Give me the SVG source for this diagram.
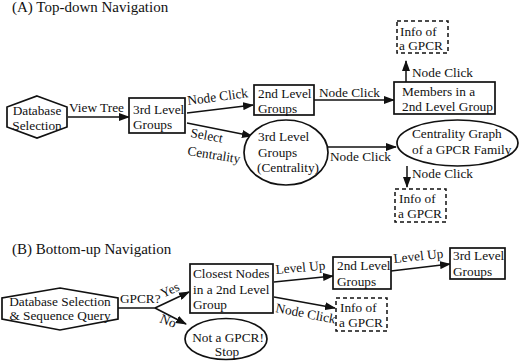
<svg xmlns="http://www.w3.org/2000/svg" width="520" height="361" viewBox="0 0 520 361" font-family="'Liberation Serif', serif">
<defs>
<marker id="ah" markerWidth="11" markerHeight="8" refX="10" refY="4" orient="auto" markerUnits="userSpaceOnUse">
<path d="M0,0 L11,4 L0,8 z" fill="#111"/>
</marker>
<style>
text{font-family:'Liberation Serif',serif;font-size:13.3px;fill:#111}
.title{font-size:15px}
.mid{text-anchor:middle}
.shape{fill:#fff;stroke:#111;stroke-width:1.7}
.dash{fill:#fff;stroke:#111;stroke-width:1.5;stroke-dasharray:4 3}
.conn{fill:none;stroke:#111;stroke-width:1.5}
.arr{marker-end:url(#ah)}
</style>
</defs>
<rect width="520" height="361" fill="#fff"/>
<text class="title" x="12" y="12">(A) Top-down Navigation</text>
<text class="title" x="12" y="254">(B) Bottom-up Navigation</text>

<g id="connectors">
<line class="conn arr" x1="68" y1="117" x2="129" y2="117"/>
<line class="conn arr" x1="187" y1="113" x2="253" y2="105"/>
<line class="conn arr" x1="187" y1="123" x2="252" y2="136"/>
<line class="conn arr" x1="314" y1="100" x2="394" y2="100"/>
<line class="conn arr" x1="406" y1="82" x2="406" y2="61"/>
<line class="conn arr" x1="328" y1="147" x2="396" y2="147"/>
<line class="conn arr" x1="407" y1="166" x2="407" y2="187"/>
<line class="conn" x1="118" y1="308" x2="155" y2="308"/>
<line class="conn arr" x1="155" y1="308" x2="189" y2="292"/>
<line class="conn arr" x1="155" y1="308" x2="186" y2="324"/>
<line class="conn arr" x1="274" y1="282" x2="333" y2="276"/>
<line class="conn arr" x1="391" y1="271" x2="450" y2="264"/>
<line class="conn arr" x1="274" y1="297" x2="335" y2="308"/>
<text x="69" y="112">View Tree</text>
<text x="188" y="105" transform="rotate(-7.5 188 105)">Node Click</text>
<text x="190" y="137" transform="rotate(10 190 137)">Select</text>
<text x="187" y="155" transform="rotate(9 187 155)">Centrality</text>
<text x="319" y="97">Node Click</text>
<text x="412" y="77">Node Click</text>
<text x="330" y="161">Node Click</text>
<text x="412" y="178">Node Click</text>
<text x="120" y="303">GPCR?</text>
<text x="163" y="298" transform="rotate(-25 163 298)">Yes</text>
<text x="159" y="322" transform="rotate(22 159 322)">No</text>
<text x="276" y="274" transform="rotate(-5 276 274)">Level Up</text>
<text x="394" y="263" transform="rotate(-6 394 263)">Level Up</text>
<text x="275" y="312" transform="rotate(11 275 312)">Node Click</text>
</g>

<g id="db-selection">
<polygon class="shape" points="37,96 67,107 67,127 37,138 7,127 7,107"/>
<text class="mid" x="37" y="115">Database</text>
<text class="mid" x="37" y="130">Selection</text>
</g>
<g id="a-3rd-level">
<rect class="shape" x="129" y="98" width="56" height="35"/>
<text x="133" y="114">3rd Level</text>
<text x="133" y="129">Groups</text>
</g>
<g id="a-2nd-level">
<rect class="shape" x="254" y="85" width="60" height="30"/>
<text x="258" y="98">2nd Level</text>
<text x="258" y="113">Groups</text>
</g>
<g id="a-members">
<rect class="shape" x="394" y="82" width="101" height="32"/>
<text x="402" y="96">Members in a</text>
<text x="402" y="111">2nd Level Group</text>
</g>
<g id="a-info-top">
<rect class="dash" x="397" y="21" width="51" height="32"/>
<text x="400" y="36">Info of</text>
<text x="399" y="50">a GPCR</text>
</g>
<g id="a-3rd-centrality">
<ellipse class="shape" cx="286" cy="152.5" rx="42" ry="32.5"/>
<text x="258" y="141">3rd Level</text>
<text x="258" y="157">Groups</text>
<text x="257" y="172">(Centrality)</text>
</g>
<g id="a-centrality-graph">
<ellipse class="shape" cx="457.5" cy="143" rx="60.5" ry="23"/>
<text x="412" y="138">Centrality Graph</text>
<text x="412" y="154">of a GPCR Family</text>
</g>
<g id="a-info-bottom">
<rect class="dash" x="395" y="189" width="51" height="33"/>
<text x="399" y="203">Info of</text>
<text x="398" y="218">a GPCR</text>
</g>

<g id="b-db-query">
<polygon class="shape" points="60,288 118,298 118,319 60,330 2,319 2,298"/>
<text class="mid" x="60" y="306">Database Selection</text>
<text class="mid" x="60" y="320">&amp; Sequence Query</text>
</g>
<g id="b-closest">
<rect class="shape" x="190" y="264" width="83" height="49"/>
<text x="193" y="278">Closest Nodes</text>
<text x="193" y="294">in a 2nd Level</text>
<text x="193" y="309">Group</text>
</g>
<g id="b-not-gpcr">
<ellipse class="shape" cx="226" cy="339" rx="41" ry="20.5"/>
<text class="mid" x="228" y="342">Not a GPCR!</text>
<text class="mid" x="227" y="356">Stop</text>
</g>
<g id="b-2nd-level">
<rect class="shape" x="333" y="257" width="58" height="32"/>
<text x="337" y="270">2nd Level</text>
<text x="337" y="286">Groups</text>
</g>
<g id="b-3rd-level">
<rect class="shape" x="450" y="248" width="55" height="31"/>
<text x="453" y="260">3rd Level</text>
<text x="453" y="276">Groups</text>
</g>
<g id="b-info">
<rect class="dash" x="336" y="298" width="51" height="33"/>
<text x="340" y="312">Info of</text>
<text x="339" y="327">a GPCR</text>
</g>
</svg>
